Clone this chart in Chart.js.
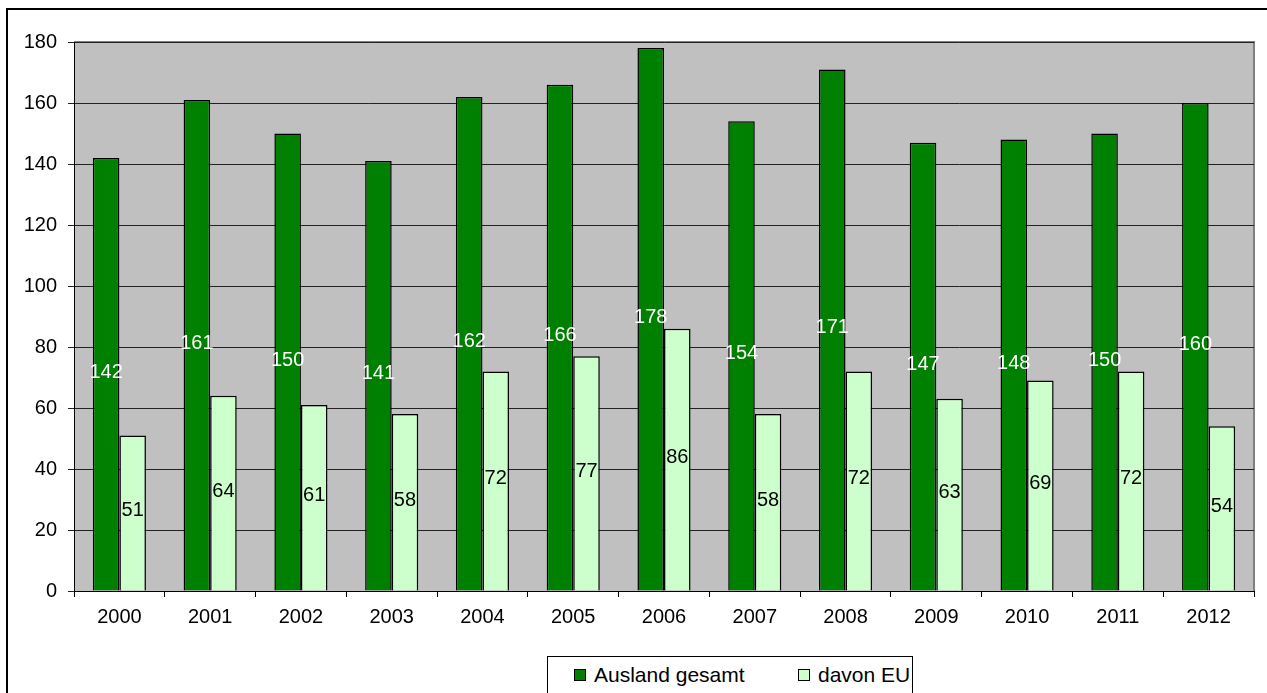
<!DOCTYPE html>
<html>
<head>
<meta charset="utf-8">
<script src="https://cdn.jsdelivr.net/npm/chart.js@4/dist/chart.umd.min.js"></script>
<style>
    html, body { margin: 0; padding: 0; background: #fff; overflow: hidden; }
    #wrap { position: relative; width: 1267px; height: 693px; }
    #frame { position: absolute; left: 6px; top: 8px; width: 1300px; height: 700px;
             border-left: 2px solid #000; border-top: 2px solid #000; }
    #legend { position: absolute; left: 547px; top: 656px; width: 364px; height: 60px;
              border: 1px solid #000; background: #fff;
              font-family: "Liberation Sans", Arial, sans-serif; font-size: 21px; }
    .item { position: absolute; top: 6px; display: flex; align-items: center; line-height: 24px; }
    .sw { width: 10px; height: 10px; border: 1px solid #000; margin-right: 8px; }
    canvas { position: absolute; left: 0; top: 0; }
</style>
</head>
<body>
<div id="wrap">
    <div id="frame"></div>
    <canvas id="barChart" width="1267" height="693"></canvas>
    <div id="legend">
        <div class="item" style="left:26px"><span class="sw" style="background:#008000"></span>Ausland gesamt</div>
        <div class="item" style="left:250px"><span class="sw" style="background:#CCFFCC"></span>davon EU</div>
    </div>
</div>
<script>
// Daten
const jahre = ['2000', '2001', '2002', '2003', '2004', '2005', '2006', '2007', '2008', '2009', '2010', '2011', '2012'];
const auslandGesamt = [142, 161, 150, 141, 162, 166, 178, 154, 171, 147, 148, 150, 160];
const davonEU = [51, 64, 61, 58, 72, 77, 86, 58, 72, 63, 69, 72, 54];

const fontFamily = '"Liberation Sans", Arial, sans-serif';

// Grauer Hintergrund der Zeichenfläche
const plotBackground = {
    id: 'plotBackground',
    beforeDraw(chart) {
        const { ctx, chartArea: a } = chart;
        ctx.save();
        ctx.fillStyle = '#C0C0C0';
        ctx.fillRect(a.left, a.top, a.right - a.left, a.bottom - a.top);
        ctx.strokeStyle = '#808080';
        ctx.lineWidth = 2;
        ctx.beginPath();
        ctx.moveTo(a.left, a.top);
        ctx.lineTo(a.right, a.top);
        ctx.lineTo(a.right, a.bottom);
        ctx.stroke();
        ctx.restore();
    }
};

// Werte mittig in die Balken schreiben
const barLabels = {
    id: 'barLabels',
    afterDatasetsDraw(chart) {
        const { ctx } = chart;
        ctx.save();
        ctx.font = '20px ' + fontFamily;
        ctx.textAlign = 'center';
        ctx.textBaseline = 'middle';
        chart.data.datasets.forEach((ds, i) => {
            const meta = chart.getDatasetMeta(i);
            ctx.fillStyle = i === 0 ? '#ffffff' : '#000000';
            meta.data.forEach((bar, j) => {
                const y = (bar.y + bar.base) / 2 - 2;
                ctx.fillText(ds.data[j], bar.x, y);
            });
        });
        ctx.restore();
    }
};

const barConfig = {
    type: 'bar',
    data: {
        labels: jahre,
        datasets: [
            {
                label: 'Ausland gesamt',
                data: auslandGesamt,
                backgroundColor: '#008000',
                borderColor: '#000000',
                borderWidth: 1.5
            },
            {
                label: 'davon EU',
                data: davonEU,
                backgroundColor: '#CCFFCC',
                borderColor: '#000000',
                borderWidth: 1.5
            }
        ]
    },
    options: {
        responsive: false,
        animation: false,
        layout: {
            padding: { left: 0, top: 42, right: 13, bottom: 62 }
        },
        plugins: {
            legend: { display: false },
            tooltip: { enabled: false }
        },
        datasets: {
            bar: {
                categoryPercentage: 0.585,
                barPercentage: 1.0
            }
        },
        scales: {
            x: {
                offset: true,
                grid: {
                    offset: true,
                    drawOnChartArea: false,
                    color: '#000',
                    tickLength: 6
                },
                border: { color: '#000', width: 1 },
                ticks: {
                    color: '#000',
                    padding: 8,
                    font: { family: fontFamily, size: 20 }
                },
                afterFit: s => { s.height = 40; }
            },
            y: {
                min: 0,
                max: 180,
                ticks: {
                    stepSize: 20,
                    color: '#000',
                    padding: 11,
                    font: { family: fontFamily, size: 20 }
                },
                grid: {
                    color: '#222',
                    tickLength: 6
                },
                border: { color: '#000', width: 1 },
                afterFit: s => { s.width = 74; }
            }
        }
    },
    plugins: [plotBackground, barLabels]
};

const barChart = new Chart(document.getElementById('barChart'), barConfig);
</script>
</body>
</html>
